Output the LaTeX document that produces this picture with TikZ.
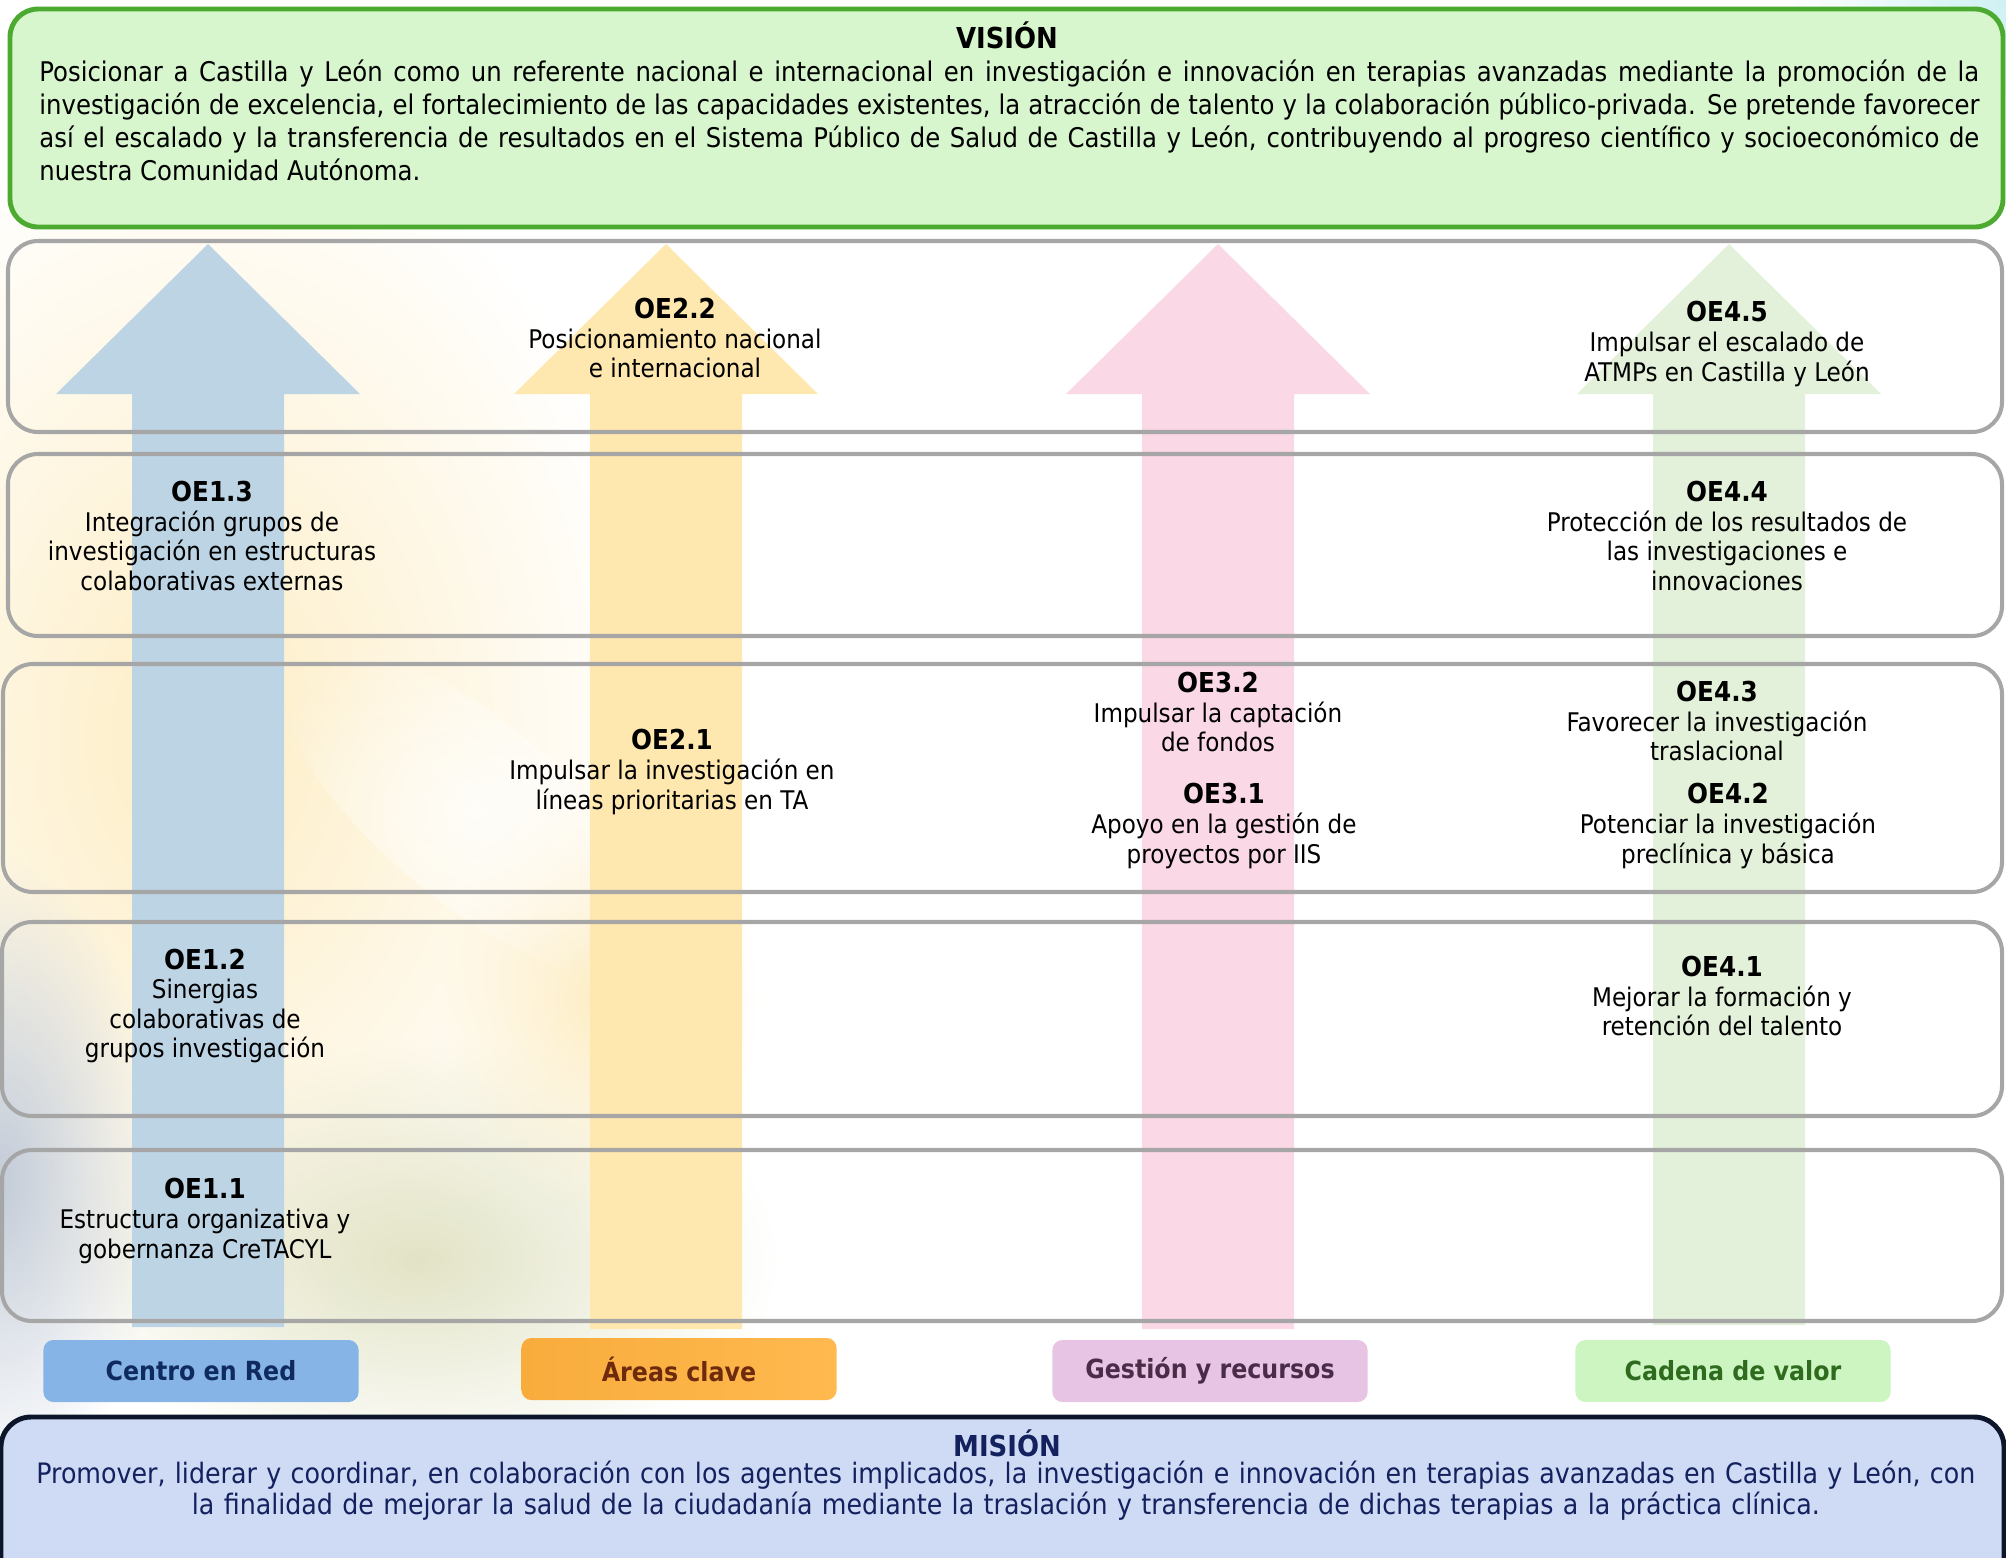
\documentclass[tikz,border=0pt]{standalone}
\usepackage{fontspec}
\setmainfont{DejaVu Sans Condensed}
\usepackage{tikz}
\usetikzlibrary{positioning, fadings}

\definecolor{visionfill}{HTML}{D7F6CD}
\definecolor{visionline}{HTML}{4DAA30}
\definecolor{rowline}{HTML}{A6A6A6}
\definecolor{misionfill}{HTML}{CFDAF5}
\definecolor{misionline}{HTML}{0C1529}
\definecolor{misiontext}{HTML}{13215E}
\definecolor{arrowblue}{HTML}{BDD4E5}
\definecolor{arrowyellow}{HTML}{FEE8AF}
\definecolor{arrowpink}{HTML}{FAD8E6}
\definecolor{arrowgreen}{HTML}{E4F1DA}
\definecolor{redfill}{HTML}{86B4E6}
\definecolor{redtext}{HTML}{0F2A5E}
\definecolor{areasleft}{HTML}{F8AC3C}
\definecolor{areasright}{HTML}{FFB94F}
\definecolor{areastext}{HTML}{6E2A0C}
\definecolor{gestionfill}{HTML}{E7C4E4}
\definecolor{gestiontext}{HTML}{4A2B48}
\definecolor{cadenafill}{HTML}{CDF5C1}
\definecolor{cadenatext}{HTML}{2E6B1E}
\definecolor{glowcream}{HTML}{FDEDC4}
\definecolor{glowslate}{HTML}{C3CCD9}
\definecolor{glowolive}{HTML}{E2E3C6}
\definecolor{glowcyan}{HTML}{CFF1F2}

\tikzfading[name=glowfade, inner color=transparent!0, outer color=transparent!100]

\newcommand{\oetag}[1]{{\fontsize{7.8}{8.4}\selectfont\bfseries #1}}
\newcommand{\nohyph}{\tolerance=9999 \hyphenpenalty=10000 \exhyphenpenalty=10000\relax}

\tikzset{
  rowbox/.style={draw=rowline, line width=1.15pt, rounded corners=0.3cm},
  visionbox/.style={draw=visionline, fill=visionfill, line width=1.4pt, rounded corners=0.28cm},
  misionbox/.style={draw=misionline, fill=misionfill, line width=1.4pt, rounded corners=0.3cm},
  oelabel/.style={align=center, inner sep=0pt, font=\fontsize{7.3}{8.4}\selectfont},
  catbox/.style={rounded corners=0.1cm, minimum width=3.15cm, minimum height=0.62cm,
    inner sep=0pt, font=\fontsize{7.5}{9}\selectfont\bfseries},
  bodytext/.style={inner sep=0pt, text width=19.39cm, font=\fontsize{7.7}{9.4}\selectfont\nohyph},
  glow/.style={path fading=glowfade},
}

\begin{document}
\begin{tikzpicture}[x=0.01cm, y=-0.01cm]
  \useasboundingbox (0,0) rectangle (2006,1557);

  % Soft background glow
  \begin{scope}
    \clip (0,0) rectangle (2006,1557);
    \fill[glowcream, glow] (200,740) ellipse [x radius=4.6cm, y radius=6.4cm];
    \fill[glowolive, glow] (420,1260) ellipse [x radius=3.6cm, y radius=2.2cm];
    \fill[glowcream, glow] (600,1000) ellipse [x radius=1.6cm, y radius=2.2cm];
    \fill[white, glow, fill opacity=0.7, rotate around={-40:(470,810)}] (470,810) ellipse [x radius=2.4cm, y radius=0.9cm];
    \fill[glowslate, glow] (0,1180) ellipse [x radius=1.6cm, y radius=3.2cm];
    \fill[glowcyan, glow] (2006,0) circle (2.2cm);
  \end{scope}

  % Vision
  \draw[visionbox] (10,9) rectangle (2003,227);
  \node[font=\fontsize{8.2}{9.4}\selectfont\bfseries] (vtitle) at (1007,35) {VISIÓN};
  \node[bodytext, align=justify] (vision) at (1009.5,120)
    {Posicionar a Castilla y León como un referente nacional e internacional en investigación e innovación en terapias avanzadas mediante la promoción de la\linebreak
     investigación de excelencia, el fortalecimiento de las capacidades existentes, la atracción de talento y la colaboración público-privada. Se pretende favorecer\linebreak
     así el escalado y la transferencia de resultados en el Sistema Público de Salud de Castilla y León, contribuyendo al progreso científico y socioeconómico de\linebreak
     nuestra Comunidad Autónoma.};

  % Arrows, one per axis
  \fill[arrowblue] (208,244) -- (360,394) -- (284,394) -- (284,1327)
    -- (132,1327) -- (132,394) -- (56,394) -- cycle;
  \fill[arrowyellow] (666,244) -- (818,394) -- (742,394) -- (742,1329)
    -- (590,1329) -- (590,394) -- (514,394) -- cycle;
  \fill[arrowpink] (1218,244) -- (1370,394) -- (1294,394) -- (1294,1329)
    -- (1142,1329) -- (1142,394) -- (1066,394) -- cycle;
  \fill[arrowgreen] (1729,244) -- (1881,394) -- (1805,394) -- (1805,1325)
    -- (1653,1325) -- (1653,394) -- (1577,394) -- cycle;

  % Rows
  \draw[rowbox] (8,241) rectangle (2002,432);
  \draw[rowbox] (8,454) rectangle (2002,636);
  \draw[rowbox] (3,664) rectangle (2002,892);
  \draw[rowbox] (2,922) rectangle (2002,1116);
  \draw[rowbox] (2,1150) rectangle (2002,1321);

  % Strategic objectives
  \node[oelabel] (oe22) at (675,338) {\oetag{OE2.2}\\Posicionamiento nacional\\e internacional};
  \node[oelabel] (oe45) at (1727,344) {\oetag{OE4.5}\\Impulsar el escalado de\\ATMPs en Castilla y León};
  \node[oelabel] (oe13) at (212,536) {\oetag{OE1.3}\\Integración grupos de\\investigación en estructuras\\colaborativas externas};
  \node[oelabel] (oe44) at (1727,536) {\oetag{OE4.4}\\Protección de los resultados de\\las investigaciones e\\innovaciones};
  \node[oelabel] (oe32) at (1218,712) {\oetag{OE3.2}\\Impulsar la captación\\de fondos};
  \node[oelabel] (oe43) at (1717,721) {\oetag{OE4.3}\\Favorecer la investigación\\traslacional};
  \node[oelabel] (oe21) at (672,772) {\oetag{OE2.1}\\Impulsar la investigación en\\líneas prioritarias en TA};
  \node[oelabel] (oe31) at (1224,826) {\oetag{OE3.1}\\Apoyo en la gestión de\\proyectos por IIS};
  \node[oelabel] (oe42) at (1728,826) {\oetag{OE4.2}\\Potenciar la investigación\\preclínica y básica};
  \node[oelabel] (oe12) at (205,1006) {\oetag{OE1.2}\\Sinergias\\colaborativas de\\grupos investigación};
  \node[oelabel] (oe41) at (1722,996) {\oetag{OE4.1}\\Mejorar la formación y\\retención del talento};
  \node[oelabel] (oe11) at (205,1221) {\oetag{OE1.1}\\Estructura organizativa y\\gobernanza CreTACYL};

  % Axis labels
  \node[catbox, fill=redfill, text=redtext] (centro) at (201,1371) {Centro en Red};
  \node[catbox, left color=areasleft, right color=areasright, text=areastext] (areas) at (679,1369) {Áreas clave};
  \node[catbox, fill=gestionfill, text=gestiontext] (gestion) at (1210,1371) {Gestión y recursos};
  \node[catbox, fill=cadenafill, text=cadenatext] (cadena) at (1733,1371) {Cadena de valor};

  % Mission
  \draw[misionbox] (1,1417) rectangle (2004,1640);
  \node[font=\fontsize{8.2}{9.4}\selectfont\bfseries, text=misiontext] (mtitle) at (1007,1443) {MISIÓN};
  \node[bodytext, align=center, text=misiontext, font=\fontsize{8}{8.8}\selectfont] (mision) at (1006,1491)
    {Promover, liderar y coordinar, en colaboración con los agentes implicados, la investigación e innovación en terapias avanzadas en Castilla y León, con\\
     la finalidad de mejorar la salud de la ciudadanía mediante la traslación y transferencia de dichas terapias a la práctica clínica.};
\end{tikzpicture}
\end{document}
